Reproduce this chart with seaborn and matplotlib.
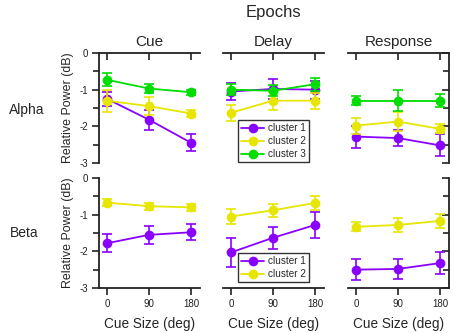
import numpy as np
import pandas as pd
import matplotlib
matplotlib.use("Agg")
import matplotlib.pyplot as plt
import seaborn as sns

sns.set_style("white")
plt.rcParams['font.family'] = ['Liberation Sans', 'DejaVu Sans']

# cue sizes on x
cue_size = [0, 90, 180]
epochs = ['Cue', 'Delay', 'Response']
bands = ['Alpha', 'Beta']
clusters = ['cluster 1', 'cluster 2', 'cluster 3']
colores = {'cluster 1': '#8A00FF', 'cluster 2': '#E6E600', 'cluster 3': '#00DD00'}

# Alpha: media (dB) e erro, por epoca e cluster
alpha_c1 = {'Cue': [-1.25, -1.82, -2.45], 'Delay': [-1.05, -0.98, -1.00], 'Response': [-2.28, -2.32, -2.52]}
alpha_c1_err = {'Cue': [0.20, 0.27, 0.23], 'Delay': [0.23, 0.28, 0.25], 'Response': [0.30, 0.22, 0.30]}
alpha_c2 = {'Cue': [-1.30, -1.45, -1.65], 'Delay': [-1.63, -1.30, -1.30], 'Response': [-1.98, -1.87, -2.07]}
alpha_c2_err = {'Cue': [0.30, 0.25, 0.10], 'Delay': [0.22, 0.25, 0.22], 'Response': [0.22, 0.25, 0.12]}
alpha_c3 = {'Cue': [-0.73, -0.97, -1.07], 'Delay': [-1.00, -1.03, -0.85], 'Response': [-1.30, -1.30, -1.30]}
alpha_c3_err = {'Cue': [0.18, 0.13, 0.07], 'Delay': [0.15, 0.15, 0.18], 'Response': [0.13, 0.28, 0.17]}

# Beta: so dois clusters
beta_c1 = {'Cue': [-1.78, -1.55, -1.48], 'Delay': [-2.03, -1.63, -1.28], 'Response': [-2.50, -2.48, -2.32]}
beta_c1_err = {'Cue': [0.25, 0.25, 0.22], 'Delay': [0.40, 0.30, 0.35], 'Response': [0.28, 0.28, 0.30]}
beta_c2 = {'Cue': [-0.67, -0.77, -0.80], 'Delay': [-1.05, -0.88, -0.68], 'Response': [-1.33, -1.28, -1.17]}
beta_c2_err = {'Cue': [0.10, 0.10, 0.10], 'Delay': [0.20, 0.18, 0.18], 'Response': [0.12, 0.18, 0.18]}

dados_banda = {
    'Alpha': [('cluster 1', alpha_c1, alpha_c1_err), ('cluster 2', alpha_c2, alpha_c2_err),
              ('cluster 3', alpha_c3, alpha_c3_err)],
    'Beta': [('cluster 1', beta_c1, beta_c1_err), ('cluster 2', beta_c2, beta_c2_err)],
}

W, H = 454, 333
fig = plt.figure(figsize=(W / 100, H / 100), dpi=100)

lefts = [99, 223, 348]
largura = 101
topos = {'Alpha': 53, 'Beta': 178}
altura = 110
# fundo da legenda (px) em cada linha
leg_fundo = {'Alpha': 162, 'Beta': 282}

for linha, banda in enumerate(bands):
    for col, epoca in enumerate(epochs):
        ax = fig.add_axes([lefts[col] / W, 1 - (topos[banda] + altura) / H, largura / W, altura / H])
        for nome, medias, erros in dados_banda[banda]:
            df = pd.DataFrame({'x': cue_size, 'y': medias[epoca]})
            ax.errorbar(cue_size, medias[epoca], yerr=erros[epoca], fmt='none',
                        ecolor=colores[nome], elinewidth=1.2, capsize=3.5, capthick=1.2)
            sns.lineplot(data=df, x='x', y='y', ax=ax, color=colores[nome], marker='o',
                         markersize=7, markeredgewidth=0, linewidth=1.3, label=nome)
        ax.set_xlim(-17, 199)
        ax.set_ylim(-3, 0)
        ax.set_xlabel('')
        ax.set_ylabel('')
        for s in ax.spines.values():
            s.set_visible(False)
            s.set_color('#222222')
            s.set_linewidth(1.3)
        ax.set_xticks(cue_size)
        ax.set_yticks([0, -1, -2, -3])
        ax.set_yticks([-0.5, -1.5, -2.5], minor=True)
        ax.tick_params(which='both', color='#222222', width=1.2, labelsize=7, pad=3,
                       labelcolor='#222222')
        ax.tick_params(which='major', length=5)
        ax.tick_params(which='minor', length=4)
        ax.tick_params(left=False, right=False, bottom=False, top=False,
                       labelleft=False, labelbottom=False, which='both')

        if linha == 0:
            ax.spines['top'].set_visible(True)
            ax.tick_params(axis='x', top=True, direction='in')
            ax.set_title(epoca, fontsize=11, pad=5)
        else:
            ax.spines['bottom'].set_visible(True)
            ax.tick_params(axis='x', bottom=True, labelbottom=True, direction='out')
            ax.set_xticklabels([str(v) for v in cue_size])
            ax.set_xlabel('Cue Size (deg)', fontsize=9.8, labelpad=6)
        if col == 0:
            ax.spines['left'].set_visible(True)
            ax.tick_params(axis='y', which='both', left=True, labelleft=True, direction='out')
            ax.set_yticklabels(['0', '-1', '-2', '-3'])
            ax.set_ylabel('Relative Power (dB)', fontsize=8.9, labelpad=4)
        if col == 2:
            ax.spines['right'].set_visible(True)
            ax.tick_params(axis='y', which='both', right=True, direction='in')

        if col == 1:
            fundo = (topos[banda] + altura - leg_fundo[banda]) / altura
            leg = ax.legend(loc='lower center', bbox_to_anchor=(0.5, fundo), fontsize=7.2,
                            frameon=True, fancybox=False, handlelength=2.3, handletextpad=0.35,
                            borderpad=0.3, labelspacing=0.3, borderaxespad=0.0)
            leg.get_frame().set_edgecolor('black')
            leg.get_frame().set_linewidth(1.0)
        else:
            ax.get_legend().remove()

fig.text(273 / W, 1 - 12 / H, 'Epochs', fontsize=12, ha='center', va='center')
fig.text(27 / W, 1 - 110 / H, 'Alpha', fontsize=10, ha='center', va='center')
fig.text(24 / W, 1 - 233 / H, 'Beta', fontsize=10, ha='center', va='center')

fig.savefig('out.png', dpi=100)
